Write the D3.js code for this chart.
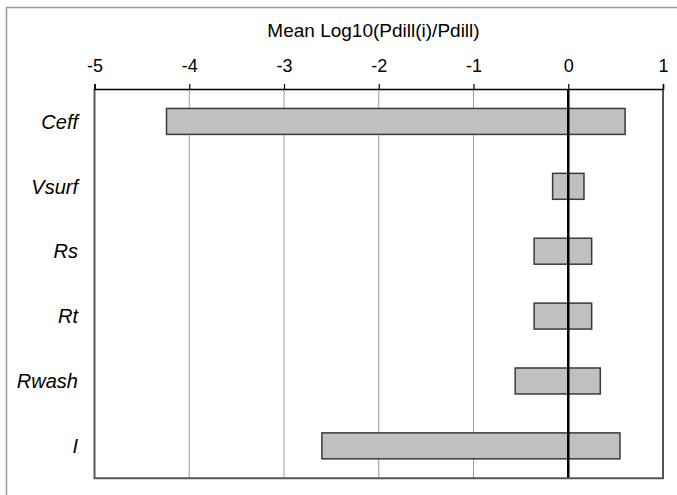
<!DOCTYPE html>
<html><head><meta charset="utf-8">
<script src="https://cdn.jsdelivr.net/npm/d3@7"></script>
<style>body{margin:0;background:#fff}svg{display:block}text{font-family:"Liberation Sans",Arial,sans-serif;fill:#000}</style>
</head><body><svg id="c" width="677" height="495"></svg>
<script>
const categories = ["Ceff","Vsurf","Rs","Rt","Rwash","I"];
const lowValues  = [-4.24,-0.165,-0.36,-0.36,-0.56,-2.60];
const highValues = [0.60,0.166,0.247,0.247,0.338,0.546];
const tickValues = [-5,-4,-3,-2,-1,0,1];
const title = "Mean Log10(Pdill(i)/Pdill)";

const svg = d3.select("#c");
const pL=94.5, pR=663, pT=89, pB=478.3;
const x = d3.scaleLinear().domain([-5,1]).range([pL,pR]);
const y = d3.scaleBand().domain(categories).range([pT,pB]).paddingInner(0.6).paddingOuter(0.3);

// outer frame
svg.append("rect").attr("x",6.5).attr("y",7.5).attr("width",700).attr("height",600)
  .attr("fill","none").attr("stroke","#999").attr("stroke-width",1.5);

// gridlines
svg.append("g").selectAll("line").data(tickValues.filter(v=>v>-5&&v<1&&v!==0)).join("line")
  .attr("x1",d=>x(d)).attr("x2",d=>x(d)).attr("y1",pT).attr("y2",pB)
  .attr("stroke","#999").attr("stroke-width",1);

// bars
const data = categories.map((c,i)=>({c,lo:lowValues[i],hi:highValues[i]}));
svg.append("g").selectAll("rect").data(data).join("rect")
  .attr("x",d=>x(d.lo)).attr("width",d=>x(d.hi)-x(d.lo))
  .attr("y",d=>y(d.c)).attr("height",y.bandwidth())
  .attr("fill","#c0c0c0").attr("stroke","#3a3a3a").attr("stroke-width",1.5);

// zero line
svg.append("line").attr("x1",x(0)).attr("x2",x(0)).attr("y1",pT).attr("y2",pB)
  .attr("stroke","#000").attr("stroke-width",2.5);

// plot frame (left, bottom, right)
svg.append("path").attr("d",`M${pL},${pT}V${pB}H${pR}V${pT}`)
  .attr("fill","none").attr("stroke","#555").attr("stroke-width",2);

// top axis
const axis = d3.axisTop(x).tickValues(tickValues).tickSize(5).tickPadding(12).tickFormat(d=>String(d));
const ag = svg.append("g").attr("transform",`translate(0,${pT})`).call(axis);
ag.select(".domain").attr("stroke","#000").attr("stroke-width",1.5);
ag.selectAll(".tick line").attr("stroke","#000").attr("stroke-width",1.2);
ag.selectAll(".tick text").attr("font-size",18).attr("font-family","Liberation Sans, Arial, sans-serif").attr("fill","#000");

// title
svg.append("text").attr("x",373.5).attr("y",36.5).attr("text-anchor","middle")
  .attr("font-size",19).text(title);

// category labels
svg.append("g").selectAll("text").data(categories).join("text")
  .attr("x",78).attr("y",d=>y(d)+y.bandwidth()/2).attr("dy","0.36em")
  .attr("text-anchor","end").attr("font-style","italic").attr("font-size",20).text(d=>d);
</script></body></html>
